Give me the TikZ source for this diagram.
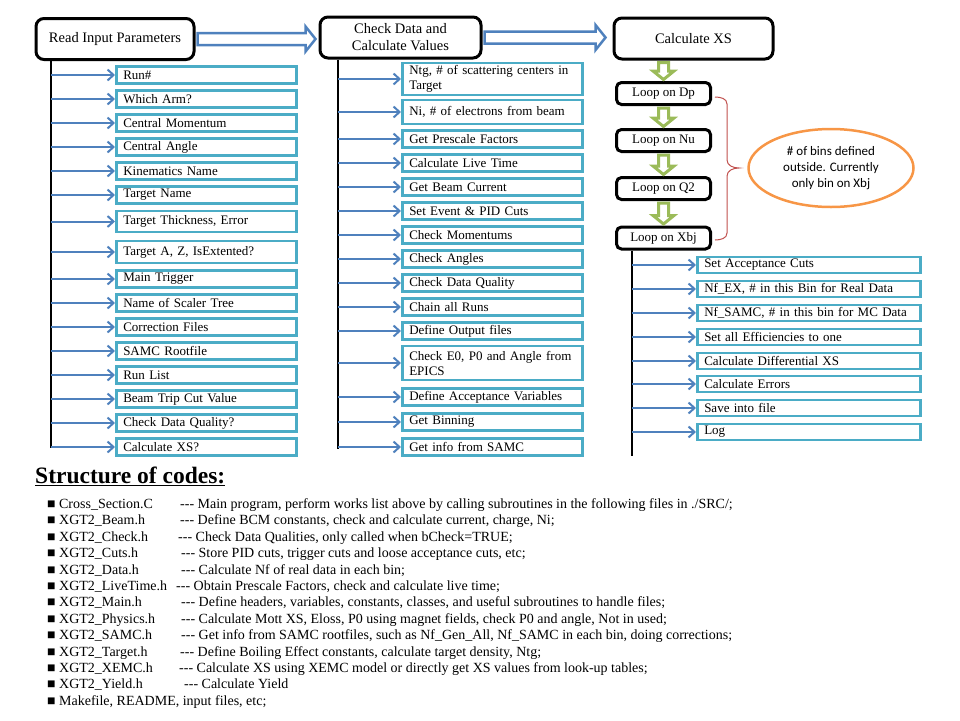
\documentclass[tikz,border=0pt]{standalone}
\usepackage{fontspec}
\setmainfont{Liberation Serif}[Ligatures=TeXOff]
\newfontfamily\notefont{Carlito}
\usetikzlibrary{positioning,arrows.meta,calc,shapes.geometric}

\definecolor{boxteal}{HTML}{4BACC6}
\definecolor{arrblue}{HTML}{4F81BD}
\definecolor{loopgreen}{HTML}{9BBB59}
\definecolor{bracered}{HTML}{C0504D}
\definecolor{noteorange}{HTML}{F79646}

\begin{document}
\begin{tikzpicture}[x=1pt, y=-1pt,
  head/.style={draw, rounded corners=8pt, line width=3pt, minimum width=158pt, minimum height=41pt, align=center, font=\fontsize{14.5}{17}\selectfont},
  loopbox/.style={draw, rounded corners=5pt, line width=3pt, minimum width=94pt, minimum height=22pt, inner sep=0pt, font=\fontsize{13}{15}\selectfont},
  itembox/.style={draw=boxteal, line width=2.5pt, anchor=west, text width=#1, align=left, inner xsep=7pt, inner ysep=1pt, minimum height=17pt, font=\fontsize{13}{15}\selectfont},
  itembox/.default=166pt,
  arr/.style={-{Straight Barb[length=6pt,width=11pt]}, arrblue, line width=2pt},
  trunk/.style={line width=2.5pt},
  fat/.style={draw=arrblue, line width=2.5pt, fill=white, line join=miter},
  down/.style={draw=loopgreen, line width=3pt, fill=white, line join=miter},
  note/.style={ellipse, draw=noteorange, line width=2.5pt, minimum width=165pt, minimum height=78pt, inner sep=0pt, align=center, font=\notefont\fontsize{13}{16}\selectfont},
  txt/.style={anchor=base west, inner sep=0pt, font=\fontsize{14}{16}\selectfont}
]
\useasboundingbox (0,0) rectangle (960,720);

% main steps
\node[head] (read) at (115,39) {Read Input Parameters};
\node[head, minimum width=161pt] (check) at (400.5,37.5) {Check Data and\\Calculate Values};
\node[head, minimum width=159pt] (calc) at (693.5,38.5) {Calculate XS};

\foreach \a/\b/\gap in {read/check/3, check/calc/7}
  \draw[fat] ($(\a.east)+(2,-6)$) -- ($(\a.east -| \b.west)+(-\gap-10,-6)$)
    -- ($(\a.east -| \b.west)+(-\gap-10,-12.5)$) -- ($(\a.east -| \b.west)+(-\gap,0)$)
    -- ($(\a.east -| \b.west)+(-\gap-10,12.5)$) -- ($(\a.east -| \b.west)+(-\gap-10,6)$)
    -- ($(\a.east)+(2,6)$) -- cycle;

% input parameters
\node[itembox] (r1) at (115,75) {Run\#};
\node[itembox] (r2) at (115,99) {Which Arm?};
\node[itembox] (r3) at (115,123) {Central Momentum};
\node[itembox] (r4) at (115,147) {Central Angle};
\node[itembox] (r5) at (115,171) {Kinematics Name};
\node[itembox] (r6) at (115,195) {Target Name};
\node[itembox, minimum height=21pt] (r7) at (115,221.5) {Target Thickness, Error};
\node[itembox, minimum height=22pt] (r8) at (115,252) {Target A, Z, IsExtented?};
\node[itembox] (r9) at (115,279) {Main Trigger};
\node[itembox] (r10) at (115,303) {Name of Scaler Tree};
\node[itembox] (r11) at (115,327) {Correction Files};
\node[itembox] (r12) at (115,351) {SAMC Rootfile};
\node[itembox] (r13) at (115,375) {Run List};
\node[itembox] (r14) at (115,399) {Beam Trip Cut Value};
\node[itembox] (r15) at (115,423) {Check Data Quality?};
\node[itembox] (r16) at (115,447) {Calculate XS?};

\coordinate (tl) at (51,448);
\draw[trunk] (read.south -| tl) -- (tl);
\foreach \i in {1,...,16}
  \draw[arr] (tl |- r\i.west) -- (r\i.west);

% checks and values
\node[itembox, minimum height=32pt] (m1) at (401,79) {Ntg, \# of scattering centers in\\Target};
\node[itembox, minimum height=24pt] (m2) at (401,112) {Ni, \# of electrons from beam};
\node[itembox] (m3) at (401,139) {Get Prescale Factors};
\node[itembox] (m4) at (401,163) {Calculate Live Time};
\node[itembox] (m5) at (401,187) {Get Beam Current};
\node[itembox] (m6) at (401,211) {Set Event \& PID Cuts};
\node[itembox] (m7) at (401,235) {Check Momentums};
\node[itembox] (m8) at (401,259) {Check Angles};
\node[itembox] (m9) at (401,283) {Check Data Quality};
\node[itembox] (m10) at (401,307) {Chain all Runs};
\node[itembox] (m11) at (401,331) {Define Output files};
\node[itembox, minimum height=34pt] (m12) at (401,363) {Check E0, P0 and Angle from\\EPICS};
\node[itembox] (m13) at (401,397) {Define Acceptance Variables};
\node[itembox] (m14) at (401,422) {Get Binning};
\node[itembox] (m15) at (401,447) {Get info from SAMC};

\coordinate (tm) at (338,449);
\draw[trunk] (check.south -| tm) -- (tm);
\foreach \i in {1,...,15}
  \draw[arr] (tm |- m\i.west) -- (m\i.west);

% loops
\node[loopbox] (dp) at (663.5,93.5) {Loop on Dp};
\node[loopbox] (nu) at (663.5,140.5) {Loop on Nu};
\node[loopbox] (qtwo) at (663.5,188.5) {Loop on Q2};
\node[loopbox] (xbj) at (663.5,238) {Loop on Xbj};

\foreach \a/\b in {calc/dp, dp/nu, nu/qtwo, qtwo/xbj}
  \draw[down] ($(\a.south -| \b.north)+(-5,2)$) -- ($(\b.north)+(-5,-10)$)
    -- ($(\b.north)+(-10.5,-10)$) -- ($(\b.north)+(0,-1.5)$)
    -- ($(\b.north)+(10.5,-10)$) -- ($(\b.north)+(5,-10)$)
    -- ($(\a.south -| \b.north)+(5,2)$) -- cycle;

\draw[bracered, line width=1pt] (715,97) to[out=0,in=90] (727,104) -- (727,160)
  to[out=-90,in=180] (739,168) to[out=180,in=90] (727,176) -- (727,233)
  to[out=-90,in=0] (715,240);
\node[note] (bins) at (831,168) {\# of bins defined\\outside. Currently\\only bin on Xbj};

% inside the Xbj loop
\node[itembox=209pt, minimum height=16pt] (x1) at (696,265) {Set Acceptance Cuts};
\node[itembox=209pt, minimum height=16pt] (x2) at (696,289) {Nf\_EX, \# in this Bin for Real Data};
\node[itembox=209pt, minimum height=16pt] (x3) at (696,313) {Nf\_SAMC, \# in this bin for MC Data};
\node[itembox=209pt, minimum height=16pt] (x4) at (696,337) {Set all Efficiencies to one};
\node[itembox=209pt, minimum height=16pt] (x5) at (696,361) {Calculate Differential XS};
\node[itembox=209pt, minimum height=16pt] (x6) at (696,384) {Calculate Errors};
\node[itembox=209pt, minimum height=16pt] (x7) at (696,408) {Save into file};
\node[itembox=209pt, minimum height=16pt] (x8) at (696,432) {Log};

\coordinate (tr) at (632,456);
\draw[trunk] (xbj.south -| tr) -- (tr);
\foreach \i in {1,...,8}
  \draw[arr] (tr |- x\i.west) -- (x\i.west);

% structure of codes
\node[txt, font=\bfseries\fontsize{23.5}{26}\selectfont] (title) at (35,483) {\underline{Structure of codes:}};

\foreach \fname/\dx/\desc [count=\i] in {
  {Cross\_Section.C}/180/{--- Main program, perform works list above by calling subroutines in the following files in ./SRC/;},
  {XGT2\_Beam.h}/180/{--- Define BCM constants, check and calculate current, charge, Ni;},
  {XGT2\_Check.h}/178/{--- Check Data Qualities, only called when bCheck=TRUE;},
  {XGT2\_Cuts.h}/181/{--- Store PID cuts, trigger cuts and loose acceptance cuts, etc;},
  {XGT2\_Data.h}/181/{--- Calculate Nf of real data in each bin;},
  {XGT2\_LiveTime.h}/176/{--- Obtain Prescale Factors, check and calculate live time;},
  {XGT2\_Main.h}/181/{--- Define headers, variables, constants, classes, and useful subroutines to handle files;},
  {XGT2\_Physics.h}/181/{--- Calculate Mott XS, Eloss, P0 using magnet fields, check P0 and angle, Not in used;},
  {XGT2\_SAMC.h}/181/{--- Get info from SAMC rootfiles, such as Nf\_Gen\_All, Nf\_SAMC in each bin, doing corrections;},
  {XGT2\_Target.h}/180/{--- Define Boiling Effect constants, calculate target density, Ntg;},
  {XGT2\_XEMC.h}/179/{--- Calculate XS using XEMC model or directly get XS values from look-up tables;},
  {XGT2\_Yield.h}/184/{--- Calculate Yield}} {
  \node[txt] (f\i) at (47,{508.5+(\i-1)*16.4}) {■ \fname};
  \node[txt] (d\i) at (\dx,{508.5+(\i-1)*16.4}) {\desc};
}
\node[txt] (f13) at (47,{508.5+12*16.4}) {■ Makefile, README, input files, etc;};
\end{tikzpicture}
\end{document}
